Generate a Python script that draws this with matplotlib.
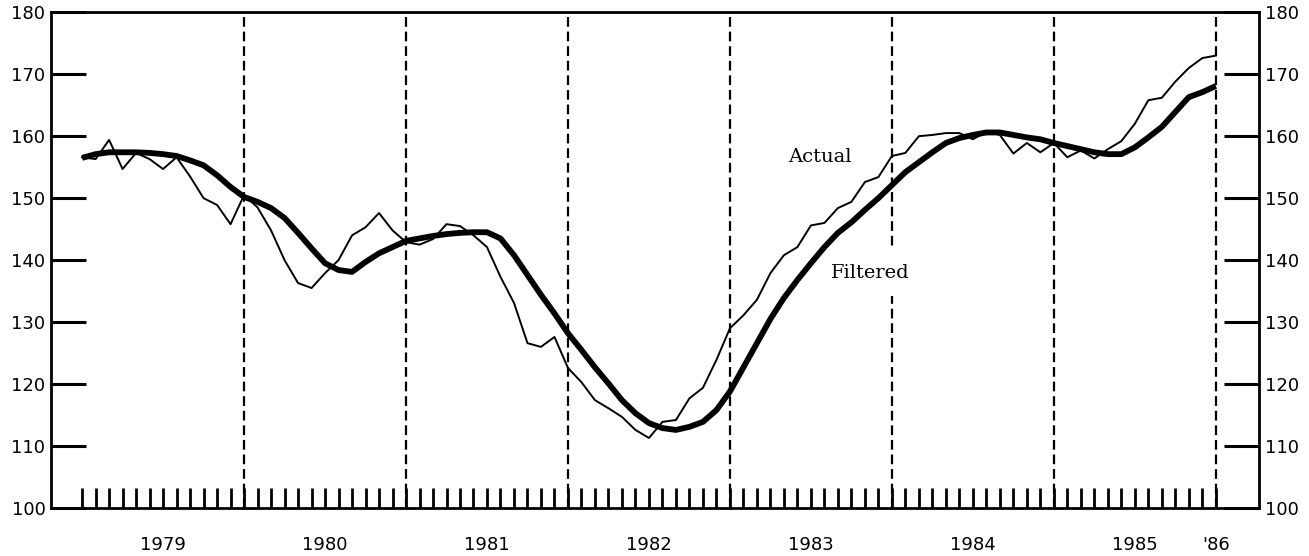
import matplotlib.pyplot as plt
import numpy as np

plt.rcParams['lines.scale_dashes'] = False

# monthly values, Jan 1979 (month 0) .. Jan 1986 (month 84)
actual = [156.6, 156.3, 159.4, 154.7, 157.3, 156.3, 154.7, 156.6, 153.5, 150.0,
          148.9, 145.8, 150.5, 148.5, 144.8, 140.0, 136.3, 135.5, 137.9, 140.0,
          144.0, 145.3, 147.6, 144.8, 142.9, 142.5, 143.4, 145.8, 145.5, 144.0,
          142.1, 137.3, 133.1, 126.6, 126.0, 127.6, 122.6, 120.3, 117.4, 116.1,
          114.7, 112.6, 111.3, 113.9, 114.2, 117.7, 119.4, 123.9, 129.0, 131.1,
          133.6, 137.9, 140.8, 142.1, 145.6, 146.0, 148.4, 149.4, 152.6, 153.4,
          156.8, 157.3, 160.0, 160.2, 160.5, 160.5, 159.5, 160.7, 160.2, 157.2,
          158.9, 157.4, 158.9, 156.6, 157.7, 156.4, 157.9, 159.2, 162.0, 165.8,
          166.2, 168.8, 171.0, 172.6, 173.0]
filtered = [156.5, 157.1, 157.4, 157.4, 157.4, 157.3, 157.1, 156.8, 156.1, 155.3,
            153.7, 151.8, 150.2, 149.4, 148.4, 146.8, 144.4, 141.9, 139.5, 138.4,
            138.1, 139.7, 141.1, 142.1, 143.1, 143.5, 143.9, 144.2, 144.4, 144.5,
            144.5, 143.5, 140.8, 137.6, 134.4, 131.4, 128.2, 125.5, 122.7, 120.1,
            117.4, 115.3, 113.7, 112.9, 112.6, 113.1, 113.9, 115.8, 118.8, 122.7,
            126.6, 130.5, 133.9, 136.8, 139.5, 142.1, 144.4, 146.1, 148.1, 150.0,
            152.1, 154.2, 155.8, 157.4, 158.9, 159.7, 160.2, 160.6, 160.6, 160.2,
            159.8, 159.5, 158.9, 158.4, 157.9, 157.4, 157.1, 157.1, 158.2, 159.8,
            161.5, 163.9, 166.3, 167.1, 168.1]
year_labels = ['1979', '1980', '1981', '1982', '1983', '1984', '1985', "'86"]
yticks = [100, 110, 120, 130, 140, 150, 160, 170, 180]

months = np.arange(len(actual))

fig = plt.figure(figsize=(13.09, 5.56), dpi=100)
ax = fig.add_axes([0.039, 0.0863, 0.9228, 0.8917])

# year boundaries
for m in range(12, 85, 12):
    ax.axvline(m, color='black', lw=1.6, dashes=(7, 3.5), zorder=1)

ax.plot(months, actual, color='black', lw=1.4, zorder=3)
ax.plot(months, filtered, color='black', lw=4.2, solid_capstyle='butt', zorder=4)

ax.text(54.7, 156.6, 'Actual', family='DejaVu Serif', fontsize=14,
        ha='center', va='center', zorder=2)
ax.text(58.4, 137.9, 'Filtered', family='DejaVu Serif', fontsize=14,
        ha='center', va='center', zorder=2,
        bbox=dict(facecolor='white', edgecolor='none', pad=10))

ax.set_xlim(-2.3, 87.2)
ax.set_ylim(100, 180)

ax.set_yticks(yticks)
ax.tick_params(axis='y', which='major', direction='in', length=25, width=2.2,
               left=True, right=True, labelleft=True, labelright=True,
               labelsize=13, pad=4)

ax.xaxis.remove_overlapping_locs = False
ax.set_xticks(list(range(6, 84, 12)) + [84])
ax.set_xticklabels(year_labels)
ax.set_xticks(range(0, 85), minor=True)
ax.tick_params(axis='x', which='major', length=0, labelsize=13, pad=20)
ax.tick_params(axis='x', which='minor', direction='in', length=14.5, width=2)

for s in ax.spines.values():
    s.set_linewidth(2)

fig.savefig('out.png', dpi=100)
